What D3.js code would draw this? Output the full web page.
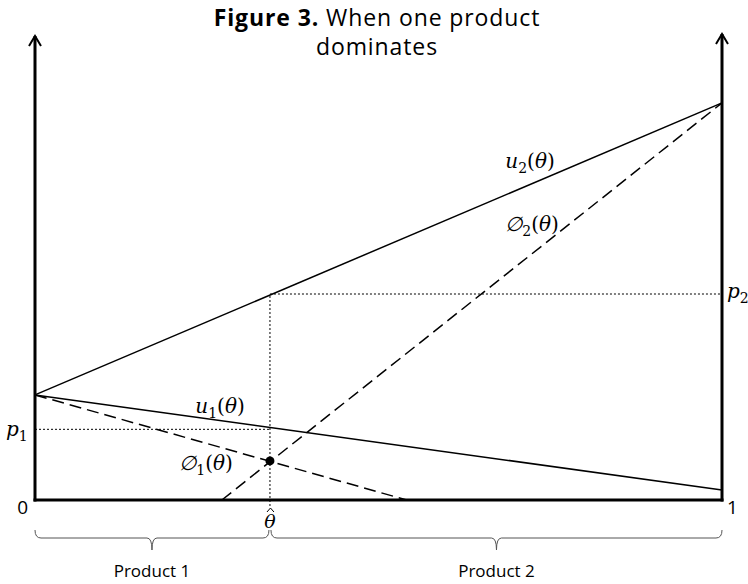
<!DOCTYPE html>
<html><head><meta charset="utf-8">
<script src="https://cdn.jsdelivr.net/npm/d3@7"></script>
<style>body{margin:0;background:#fff}</style>
</head><body>
<svg id="c" width="748" height="584"></svg>
<script>
// data (theta in [0,1], value in [0,1])
const thetaHat = 0.342;
const u1 = [[0, 0.226], [1, 0.0215]];
const u2 = [[0, 0.226], [1, 0.854]];
const phi1 = [[0, 0.226], [0.541, 0]];
const phi2 = [[0.272, 0], [1, 0.854]];
const p1 = 0.152, p2 = 0.443, dotVal = 0.084;
const xTicks = ["0", "1"];
const products = ["Product 1", "Product 2"];

const svg = d3.select("#c");
const x = d3.scaleLinear().domain([0,1]).range([35,722]);
const y = d3.scaleLinear().domain([0,1]).range([500,35]);
const line = d3.line().x(d=>x(d[0])).y(d=>y(d[1]));

const sans = "Open Sans, sans-serif";
const serif = "DejaVu Serif, serif";

// title
const t = svg.append("text").attr("x",377).attr("y",26).attr("text-anchor","middle")
  .style("font-family",sans).style("font-size","23px").style("letter-spacing","0.9px");
t.append("tspan").attr("font-weight","bold").text("Figure 3.");
t.append("tspan").text(" When one product");
svg.append("text").attr("x",377).attr("y",55).attr("text-anchor","middle")
  .style("font-family",sans).style("font-size","23px").style("letter-spacing","0.9px").text("dominates");

// dotted guides
const dot = "2,2";
svg.append("line").attr("x1",x(thetaHat)).attr("x2",x(thetaHat)).attr("y1",y(0)+6).attr("y2",y(p2))
  .attr("stroke","#000").attr("stroke-width",1).attr("stroke-dasharray",dot);
svg.append("line").attr("x1",x(thetaHat)).attr("x2",x(1)).attr("y1",y(p2)).attr("y2",y(p2))
  .attr("stroke","#000").attr("stroke-width",1).attr("stroke-dasharray",dot);
svg.append("line").attr("x1",x(0)).attr("x2",x(thetaHat)).attr("y1",y(p1)).attr("y2",y(p1))
  .attr("stroke","#000").attr("stroke-width",1).attr("stroke-dasharray",dot);

// lines
[[u1,null],[u2,null],[phi1,"12,6"],[phi2,"12,6"]].forEach(([d,da])=>{
  svg.append("path").attr("d",line(d)).attr("fill","none").attr("stroke","#000")
    .attr("stroke-width",1.5).attr("stroke-dasharray",da);
});

// axes
const ax = (x1,y1,x2,y2)=>svg.append("line").attr("x1",x1).attr("y1",y1).attr("x2",x2).attr("y2",y2)
  .attr("stroke","#000").attr("stroke-width",3);
ax(x(0),y(0)+1.5,x(0),36);
ax(x(1),y(0)+1.5,x(1),34);
ax(x(0)-1.5,y(0),x(1)+1.5,y(0));
// arrowheads
[[x(0),36],[x(1),34]].forEach(([ax_,ay])=>{
  svg.append("path").attr("d",`M${ax_-6},${ay+10}L${ax_},${ay}L${ax_+6},${ay+10}`)
    .attr("fill","none").attr("stroke","#000").attr("stroke-width",2);
});

// dot
svg.append("circle").attr("cx",x(thetaHat)).attr("cy",y(dotVal)).attr("r",4.5).attr("fill","#000");

// tick labels
svg.append("text").attr("x",x(0)-7).attr("y",y(0)+14).attr("text-anchor","end")
  .style("font-family",sans).style("font-size","19px").text(xTicks[0]);
svg.append("text").attr("x",x(1)+5).attr("y",y(0)+14)
  .style("font-family",sans).style("font-size","19px").text(xTicks[1]);

// math labels
function mlab(px,py,base,sub,anchor,paren){
  const tx = svg.append("text").attr("x",px).attr("y",py).attr("text-anchor",anchor||"middle")
    .style("font-family",serif).style("font-size","20px");
  tx.append("tspan").attr("font-style","italic").text(base);
  tx.append("tspan").attr("dy",5).style("font-size","14px").text(sub);
  if(paren){
    tx.append("tspan").attr("dy",-5).text("(");
    tx.append("tspan").attr("font-style","italic").text("θ");
    tx.append("tspan").text(")");
  }
  return tx;
}
mlab(530,168,"u","2","middle",true);
mlab(532,231,"∅","2","middle",true);
mlab(220,413,"u","1","middle",true);
mlab(206,470,"∅","1","middle",true);
mlab(6,436,"p","1","start",false);
mlab(727,298,"p","2","start",false);
svg.append("text").attr("x",x(thetaHat)).attr("y",528).attr("text-anchor","middle")
  .style("font-family",serif).style("font-size","19px").attr("font-style","italic").text("θ");
// hat over theta
svg.append("path").attr("d",`M${x(thetaHat)-3},${512}L${x(thetaHat)+0.5},${508}L${x(thetaHat)+4},${512}`)
  .attr("fill","none").attr("stroke","#000").attr("stroke-width",1);

// braces
function brace(xa,xb){
  const m=(xa+xb)/2, yt=530, yl=538, ytip=550;
  svg.append("path").attr("d",
    `M${xa},${yt}Q${xa},${yl} ${xa+6},${yl}L${m-5},${yl}Q${m},${yl} ${m},${ytip}Q${m},${yl} ${m+5},${yl}L${xb-6},${yl}Q${xb},${yl} ${xb},${yt}`)
    .attr("fill","none").attr("stroke","#555").attr("stroke-width",1);
  return m;
}
const m1 = brace(x(0),x(thetaHat)-1);
const m2 = brace(x(thetaHat)+1,x(1));
[m1,m2].forEach((m,i)=>svg.append("text").attr("x",m).attr("y",577).attr("text-anchor","middle")
  .style("font-family",sans).style("font-size","17px").text(products[i]));
</script>
</body></html>
